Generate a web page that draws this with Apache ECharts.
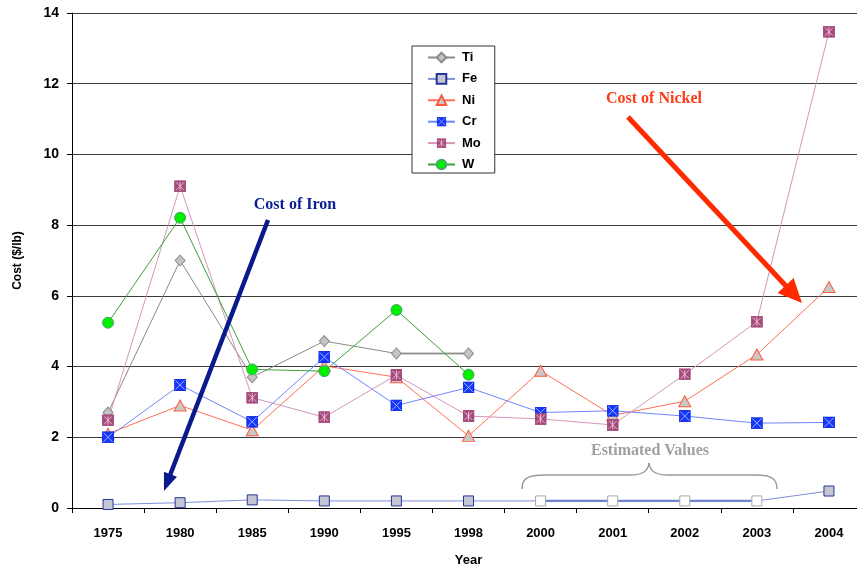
<!DOCTYPE html>
<html>
<head>
<meta charset="utf-8">
<script src="https://cdn.jsdelivr.net/npm/echarts@6/dist/echarts.min.js"></script>
<style>
  html, body { margin: 0; padding: 0; background: #fff; }
  #chart { width: 857px; height: 568px; }
</style>
</head>
<body>
<div id="chart"></div>
<script>
// Metal prices, $/lb
const years = ['1975', '1980', '1985', '1990', '1995', '1998', '2000', '2001', '2002', '2003', '2004'];
const ti = [2.7, 7.0, 3.7, 4.72, 4.37, 4.37, null, null, null, null, null];
const fe = [0.1, 0.15, 0.23, 0.2, 0.2, 0.2, 0.2, 0.2, 0.2, 0.2, 0.48];
const feEstimated = ['2000', '2001', '2002', '2003'];
const tiFlat = ['1995', '1998'];
const ni = [2.1, 2.9, 2.2, 4.02, 3.7, 2.04, 3.88, 2.62, 3.02, 4.34, 6.25];
const cr = [2.0, 3.48, 2.44, 4.27, 2.9, 3.41, 2.7, 2.75, 2.6, 2.4, 2.42];
const mo = [2.48, 9.1, 3.12, 2.57, 3.76, 2.6, 2.52, 2.35, 3.78, 5.27, 13.47];
const w = [5.24, 8.21, 3.92, 3.87, 5.6, 3.77, null, null, null, null, null];
const yTicks = [0, 2, 4, 6, 8, 10, 12, 14];

function svgSymbol(svg) {
  return 'image://data:image/svg+xml;charset=utf-8,' + encodeURIComponent(svg);
}
const crSymbol = svgSymbol(
  "<svg xmlns='http://www.w3.org/2000/svg' width='12' height='12'>" +
  "<rect x='0.5' y='0.5' width='11' height='11' fill='#1437ff' stroke='#1a2ad8'/>" +
  "<path d='M1.5 1.5L10.5 10.5M10.5 1.5L1.5 10.5' stroke='#9fb2ff' stroke-width='1'/></svg>");
const moSymbol = svgSymbol(
  "<svg xmlns='http://www.w3.org/2000/svg' width='12' height='12'>" +
  "<rect x='0.5' y='0.5' width='11' height='11' fill='#a44a7c' stroke='#a44a7c'/>" +
  "<path d='M2 2L10 10M10 2L2 10M6 1.5V10.5' stroke='#f0c8dc' stroke-width='0.9'/></svg>");

const feData = fe.map((v, i) => feEstimated.includes(years[i])
  ? { value: v, itemStyle: { color: '#ffffff', borderColor: '#a8a8a8', borderWidth: 1 } }
  : v);
// heavier strokes for the estimated iron run and the flat titanium run
const feEstLine = fe.map((v, i) => feEstimated.includes(years[i]) ? v : null);
const tiFlatLine = ti.map((v, i) => tiFlat.includes(years[i]) ? v : null);

const chart = echarts.init(document.getElementById('chart'), null, { renderer: 'canvas' });

const bold = { fontFamily: 'Liberation Sans, Arial, sans-serif', fontWeight: 'bold', color: '#000' };

function arrow(x1, y1, x2, y2, color, width, headLen, headHalf) {
  const dx = x2 - x1, dy = y2 - y1, len = Math.hypot(dx, dy);
  const ux = dx / len, uy = dy / len, nx = -uy, ny = ux;
  const bx = x2 - ux * headLen, by = y2 - uy * headLen;
  return [
    { type: 'line', shape: { x1: x1, y1: y1, x2: bx + ux * 2, y2: by + uy * 2 },
      style: { stroke: color, lineWidth: width }, z: 50 },
    { type: 'polygon', shape: { points: [[x2, y2], [bx + nx * headHalf, by + ny * headHalf], [bx - nx * headHalf, by - ny * headHalf]] },
      style: { fill: color }, z: 50 }
  ];
}

// curly brace over the estimated years
const braceStyle = { stroke: '#9a9a9a', lineWidth: 1.5, fill: null };
const brace = [
  { type: 'bezierCurve', shape: { x1: 522, y1: 489, cpx1: 522, cpy1: 478, cpx2: 528, cpy2: 475, x2: 545, y2: 475 } },
  { type: 'line', shape: { x1: 545, y1: 475, x2: 630, y2: 475 } },
  { type: 'bezierCurve', shape: { x1: 630, y1: 475, cpx1: 643, cpy1: 475, cpx2: 648, cpy2: 471, x2: 649, y2: 463 } },
  { type: 'bezierCurve', shape: { x1: 649, y1: 463, cpx1: 650, cpy1: 471, cpx2: 655, cpy2: 475, x2: 668, y2: 475 } },
  { type: 'line', shape: { x1: 668, y1: 475, x2: 756, y2: 475 } },
  { type: 'bezierCurve', shape: { x1: 756, y1: 475, cpx1: 772, cpy1: 475, cpx2: 777, cpy2: 479, x2: 777, y2: 489 } }
].map(e => Object.assign(e, { style: braceStyle, z: 50 }));

const serifBold = 'bold 16px "Liberation Serif", "Times New Roman", serif';
function note(text, cx, cy, color) {
  return { type: 'text', x: cx, y: cy, z: 50,
    style: { text: text, font: serifBold, fill: color, align: 'center', verticalAlign: 'middle' } };
}

chart.setOption({
  animation: false,
  backgroundColor: '#fff',
  grid: { left: 72, top: 13, width: 793, height: 495, containLabel: false, outerBoundsMode: 'none' },
  legend: {
    orient: 'vertical',
    left: 412, top: 46,
    padding: [5, 14, 2, 15],
    itemGap: 8.4,
    itemWidth: 27, itemHeight: 12,
    backgroundColor: '#fff',
    borderColor: '#333', borderWidth: 1, borderRadius: 0,
    textStyle: Object.assign({ fontSize: 13, padding: [0, 0, 0, 2] }, bold),
    data: ['Ti', 'Fe', 'Ni', 'Cr', 'Mo', 'W']
  },
  xAxis: {
    type: 'category',
    data: years,
    boundaryGap: true,
    name: 'Year',
    nameLocation: 'middle',
    nameGap: 46,
    nameTextStyle: Object.assign({ fontSize: 13 }, bold),
    axisLine: { lineStyle: { color: '#000', width: 1 } },
    axisTick: { show: true, length: 5, alignWithLabel: false, lineStyle: { color: '#000' } },
    axisLabel: Object.assign({ fontSize: 13, margin: 19 }, bold),
    splitLine: { show: false }
  },
  yAxis: {
    type: 'value',
    min: 0, max: 14, interval: 2,
    name: 'Cost ($/lb)',
    nameLocation: 'middle',
    nameGap: 48,
    nameTextStyle: Object.assign({ fontSize: 12 }, bold),
    axisLine: { show: true, lineStyle: { color: '#000', width: 1 } },
    axisTick: { show: true, length: 5, lineStyle: { color: '#000' } },
    axisLabel: Object.assign({ fontSize: 14, margin: 13,
      formatter: v => yTicks.includes(v) ? String(v) : '' }, bold),
    splitLine: { show: true, lineStyle: { color: '#3a3a3a', width: 1 } }
  },
  series: [
    { name: 'Ti-flat', type: 'line', data: tiFlatLine, symbol: 'none', z: 1,
      lineStyle: { color: '#555', width: 1.6 }, tooltip: { show: false } },
    { name: 'Fe-est', type: 'line', data: feEstLine, symbol: 'none', z: 1,
      lineStyle: { color: '#6a7acb', width: 2.2 }, tooltip: { show: false } },
    { name: 'Ti', type: 'line', data: ti, symbol: 'diamond', symbolSize: [10, 11],
      lineStyle: { color: '#8a8a8a', width: 1 },
      itemStyle: { color: '#c4c4c4', borderColor: '#8c8c8c', borderWidth: 1 } },
    { name: 'Fe', type: 'line', data: feData, symbol: 'rect', symbolSize: 10,
      lineStyle: { color: '#7f8fd6', width: 1 },
      itemStyle: { color: '#c4c6d2', borderColor: '#22349e', borderWidth: 1 } },
    { name: 'Ni', type: 'line', data: ni, symbol: 'triangle', symbolSize: [12, 11],
      lineStyle: { color: '#ff6e55', width: 1 },
      itemStyle: { color: '#c8c8c8', borderColor: '#ff5a3c', borderWidth: 1 } },
    { name: 'Cr', type: 'line', data: cr, symbol: crSymbol, symbolSize: 12,
      lineStyle: { color: '#6f86ff', width: 1 },
      itemStyle: { color: '#1437ff' } },
    { name: 'Mo', type: 'line', data: mo, symbol: moSymbol, symbolSize: 12,
      lineStyle: { color: '#d596bc', width: 1 },
      itemStyle: { color: '#a44a7c' } },
    { name: 'W', type: 'line', data: w, symbol: 'circle', symbolSize: 11,
      lineStyle: { color: '#3aa23a', width: 1 },
      itemStyle: { color: '#00ee00', borderColor: '#4aa66a', borderWidth: 1 } }
  ],
  graphic: [
    note('Cost of Iron', 295, 205, '#0a1d96'),
    ...arrow(268, 220, 164, 491, '#0a1a8c', 4.5, 18, 7),
    note('Cost of Nickel', 654, 99, '#ff3a16'),
    ...arrow(628, 117, 802, 303, '#ff2a00', 5, 24, 11),
    note('Estimated Values', 650, 451, '#a0a0a0'),
    ...brace
  ]
});
</script>
</body>
</html>
